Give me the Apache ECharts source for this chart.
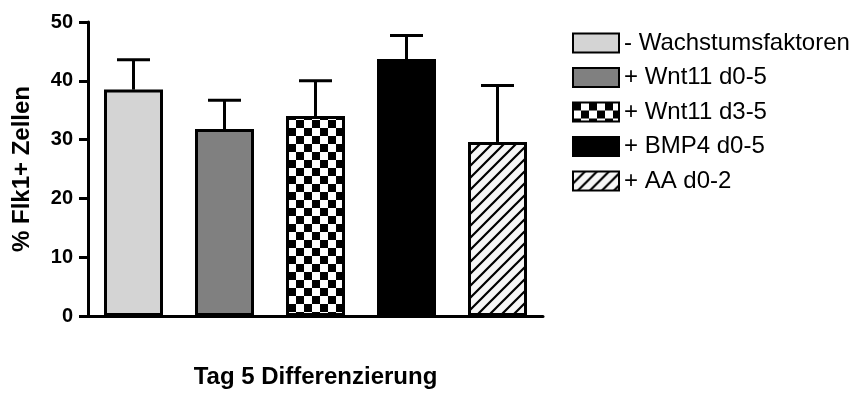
<!DOCTYPE html>
<html>
<head>
<meta charset="utf-8">
<script src="https://cdn.jsdelivr.net/npm/echarts@6/dist/echarts.min.js"></script>
<style>
  html, body { margin: 0; padding: 0; background: #fff; }
  #chart { width: 864px; height: 394px; }
</style>
</head>
<body>
<div id="chart"></div>
<script>
// Flk1+ cells after 5 days of differentiation, mean and SD per condition
const categories = ['- Wachstumsfaktoren', '+ Wnt11 d0-5', '+ Wnt11 d3-5', '+ BMP4 d0-5', '+ AA d0-2'];
const means = [38.5, 31.8, 34.0, 43.7, 29.6];
const errors = [5.1, 4.9, 6.0, 4.0, 9.6];
const yTicks = [0, 10, 20, 30, 40, 50];
const yAxisTitle = '% Flk1+ Zellen';
const xAxisTitle = 'Tag 5 Differenzierung';

const FONT = 'Liberation Sans, Arial, sans-serif';

// Fill patterns
function checkerPattern() {
  const c = document.createElement('canvas');
  c.width = 16; c.height = 16;
  const g = c.getContext('2d');
  g.fillStyle = '#ffffff'; g.fillRect(0, 0, 16, 16);
  g.fillStyle = '#000000';
  g.fillRect(0, 0, 8, 8);
  g.fillRect(8, 8, 8, 8);
  return c;
}
function hatchPattern() {
  const s = 12;
  const c = document.createElement('canvas');
  c.width = s; c.height = s;
  const g = c.getContext('2d');
  g.fillStyle = '#f6f6f6'; g.fillRect(0, 0, s, s);
  g.strokeStyle = '#000000';
  g.lineWidth = 2.2;
  g.beginPath();
  g.moveTo(-s / 2, s / 2); g.lineTo(s / 2, -s / 2);
  g.moveTo(0, s); g.lineTo(s, 0);
  g.moveTo(s / 2, s * 1.5); g.lineTo(s * 1.5, s / 2);
  g.stroke();
  return c;
}

const fills = [
  '#d4d4d4',
  '#808080',
  { image: checkerPattern(), repeat: 'repeat' },
  '#000000',
  { image: hatchPattern(), repeat: 'repeat' }
];

// One series per condition so that each gets its own legend entry
const barSeries = categories.map((name, i) => ({
  name: name,
  type: 'bar',
  barWidth: 59,
  barGap: '-100%',
  itemStyle: { color: fills[i], borderColor: '#000', borderWidth: 3 },
  data: categories.map((_, j) => (j === i ? means[i] : '-')),
  z: 3
}));

const errorSeries = {
  type: 'custom',
  name: 'SD',
  z: 2,
  data: means.map((m, i) => [i, m, errors[i]]),
  renderItem: function (params, api) {
    const base = api.coord([api.value(0), api.value(1)]);
    const top = api.coord([api.value(0), api.value(1) + api.value(2)]);
    const half = 16.5;
    return {
      type: 'group',
      children: [
        { type: 'line', shape: { x1: base[0], y1: base[1], x2: top[0], y2: top[1] },
          style: { stroke: '#000', lineWidth: 3 } },
        { type: 'line', shape: { x1: top[0] - half, y1: top[1], x2: top[0] + half, y2: top[1] },
          style: { stroke: '#000', lineWidth: 3 } }
      ]
    };
  }
};

const chart = echarts.init(document.getElementById('chart'), null, { renderer: 'canvas' });
chart.setOption({
  animation: false,
  backgroundColor: '#ffffff',
  textStyle: { fontFamily: FONT },
  grid: { left: 88, right: 321, top: 22, bottom: 63, containLabel: false },
  legend: {
    orient: 'vertical',
    left: 572,
    top: 31,
    padding: 0,
    itemWidth: 46,
    itemHeight: 19,
    itemGap: 10.5,
    icon: 'rect',
    selectedMode: false,
    data: categories,
    textStyle: { fontFamily: FONT, fontSize: 24, color: '#000', lineHeight: 20 }
  },
  xAxis: {
    type: 'category',
    data: categories,
    name: xAxisTitle,
    nameLocation: 'middle',
    nameGap: 49,
    nameTextStyle: { fontFamily: FONT, fontWeight: 'bold', fontSize: 24, color: '#000' },
    axisLine: { lineStyle: { color: '#000', width: 3 } },
    axisTick: { show: false },
    axisLabel: { show: false }
  },
  yAxis: {
    type: 'value',
    min: yTicks[0],
    max: yTicks[yTicks.length - 1],
    interval: 10,
    name: yAxisTitle,
    nameLocation: 'middle',
    nameGap: 54,
    nameTextStyle: { fontFamily: FONT, fontWeight: 'bold', fontSize: 24, color: '#000' },
    axisLine: { show: true, lineStyle: { color: '#000', width: 3 } },
    axisTick: { show: true, length: 9, lineStyle: { color: '#000', width: 3 } },
    axisLabel: { fontFamily: FONT, fontWeight: 'bold', fontSize: 20, color: '#000', margin: 15 },
    splitLine: { show: false }
  },
  series: [...barSeries, errorSeries]
});
</script>
</body>
</html>
